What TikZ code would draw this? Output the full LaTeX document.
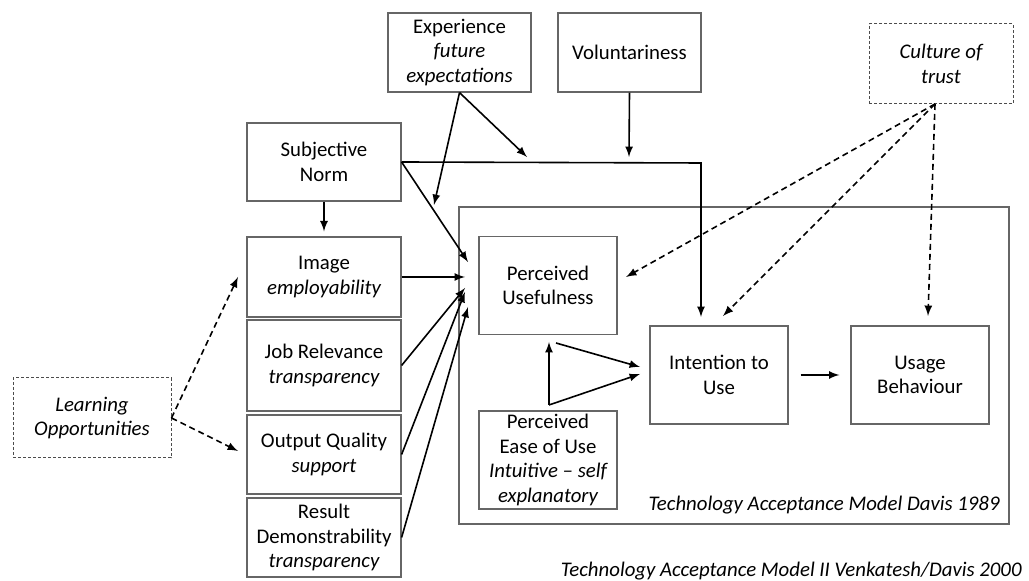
\documentclass[tikz,border=0pt]{standalone}
\usepackage{fontspec}
\setmainfont{Carlito}

\begin{document}
\begin{tikzpicture}[>=latex, x=0.5pt, y=-0.5pt,
    every node/.style={font=\fontsize{10.4}{12.2}\selectfont, align=center, inner sep=0pt},
    box/.style={draw=black!60, line width=0.6pt},
    leftbox/.style={box, minimum width=77pt, minimum height=40pt},
    tambox/.style={box, minimum width=69pt, minimum height=49pt},
    topbox/.style={box, minimum width=71.5pt, minimum height=39.5pt},
    extbox/.style={draw=black!70, line width=0.5pt, dash pattern=on 1.5pt off 1pt, minimum height=40pt},
    solidarrow/.style={->, line width=0.8pt, black},
    dasharrow/.style={->, line width=0.8pt, black, dash pattern=on 3pt off 2pt}]
    \useasboundingbox (0,0) rectangle (1029,581);

    % outer TAM frame
    \node[box, minimum width=275pt, minimum height=158.5pt] (tam) at (734,365.5) {};
    \node[anchor=east] (tamCaption) at (1000,505) {\itshape Technology Acceptance Model Davis 1989};
    \node[anchor=east] (tamTwoCaption) at (1022,571) {\itshape Technology Acceptance Model II Venkatesh/Davis 2000};

    % top row
    \node[topbox] (experience) at (459.5,52.5) {Experience\\\itshape future\\\itshape expectations};
    \node[topbox] (voluntariness) at (629.5,52.5) {Voluntariness};
    \node[extbox, minimum width=72pt] (culture) at (941,64) {\itshape Culture of\\\itshape trust};

    % left column
    \node[leftbox, minimum height=39pt] (subjNorm) at (324,162) {Subjective\\Norm};
    \node[leftbox] (image) at (324,277) {Image\\\itshape employability};
    \node[leftbox, minimum height=45.5pt] (jobRel) at (324,365.5) {Job Relevance\\\itshape transparency};
    \node[leftbox, minimum height=39.5pt] (outQual) at (324,454.5) {Output Quality\\\itshape support};
    \node[leftbox, minimum height=39.5pt] (resDemo) at (324,537.5) {Result\\Demonstrability\\\itshape transparency};
    \node[extbox, minimum width=79pt] (learning) at (92,418) {\itshape Learning\\\itshape Opportunities};

    % TAM core
    \node[tambox] (useful) at (548,285.5) {Perceived\\Usefulness};
    \node[tambox] (ease) at (548,460) {Perceived\\Ease of Use\\\itshape Intuitive -- self\\\itshape explanatory};
    \node[tambox] (intention) at (719,375) {Intention to\\Use};
    \node[tambox] (usage) at (920,375) {Usage\\Behaviour};

    \coordinate (expMid) at (527,157);
    \coordinate (expLow) at (434,205);
    \coordinate (volTip) at (629,157);
    \coordinate (normCorner) at (701,163);
    \coordinate (normTip) at (701,317);
    \coordinate (inNorm) at (468,262);
    \coordinate (inImage) at (465,277);
    \coordinate (inJob) at (465,288);
    \coordinate (inOutput) at (465,292);
    \coordinate (inResult) at (468,307);
    \coordinate (learnUp) at (238,277);
    \coordinate (learnDown) at (238,451);
    \coordinate (trustOrigin) at (935,104);
    \coordinate (trustUseful) at (626,277);
    \coordinate (trustIntent) at (723,316);
    \coordinate (trustUsage) at (928,316);
    \coordinate (apex) at (549,405);
    \coordinate (apexTop) at (549,342);
    \coordinate (usefulOut) at (556,343);
    \coordinate (intentLow) at (640,374);
    \coordinate (intentHigh) at (640,367);

    \draw[solidarrow] (experience.south) -- (expMid);
    \draw[solidarrow] (experience.south) -- (expLow);
    \draw[solidarrow] (voluntariness.south) -- (volTip);
    \draw[solidarrow] (subjNorm.east) -- (normCorner) -- (normTip);
    \draw[solidarrow] (subjNorm.east) -- (inNorm);
    \draw[solidarrow, shorten >=2.5pt] (subjNorm.south) -- (image.north);

    \draw[solidarrow] (image.east) -- (inImage);
    \draw[solidarrow] (jobRel.east) -- (inJob);
    \draw[solidarrow] (outQual.east) -- (inOutput);
    \draw[solidarrow] (resDemo.east) -- (inResult);

    \draw[dasharrow] (learning.east) -- (learnUp);
    \draw[dasharrow] (learning.east) -- (learnDown);

    \draw[dasharrow] (trustOrigin) -- (trustUseful);
    \draw[dasharrow] (trustOrigin) -- (trustIntent);
    \draw[dasharrow] (trustOrigin) -- (trustUsage);

    \draw[solidarrow] (apex) -- (apexTop);
    \draw[solidarrow] (apex) -- (intentLow);
    \draw[solidarrow] (usefulOut) -- (intentHigh);
    \draw[solidarrow, shorten <=6pt, shorten >=5.5pt] (intention.east) -- (usage.west);
\end{tikzpicture}
\end{document}
